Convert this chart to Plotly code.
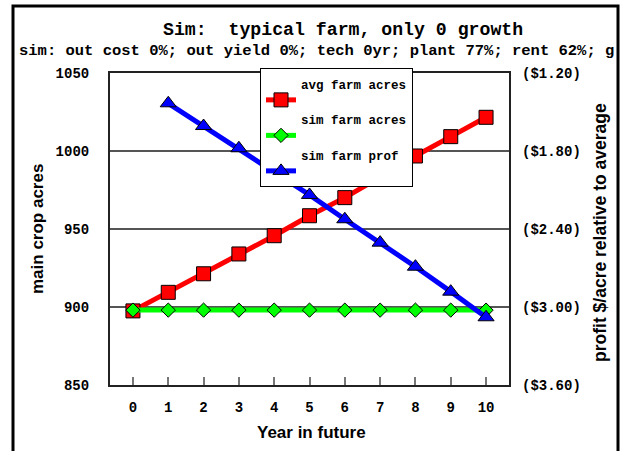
import plotly.graph_objects as go

# ---- data ----
years = [0, 1, 2, 3, 4, 5, 6, 7, 8, 9, 10]
avg_farm_acres = [897.5, 909.4, 921.3, 934.0, 945.7, 958.5, 970.1, 983.3, 996.8, 1009.2, 1021.6]
sim_farm_acres = [898, 898, 898, 898, 898, 898, 898, 898, 898, 898, 898]
prof_years = [1, 2, 3, 4, 5, 6, 7, 8, 9, 10]
sim_farm_prof = [-1.433, -1.608, -1.779, -1.96, -2.138, -2.325, -2.505, -2.690, -2.882, -3.079]

left_ticks = [850, 900, 950, 1000, 1050]
right_ticks = [-3.6, -3.0, -2.4, -1.8, -1.2]
right_tick_labels = ["($3.60)", "($3.00)", "($2.40)", "($1.80)", "($1.20)"]

title_text = "Sim:  typical farm, only 0 growth"
subtitle_text = "sim: out cost 0%; out yield 0%; tech 0yr; plant 77%; rent 62%; g"

MONO = "Liberation Mono"
SANS = "Liberation Sans"

W, H = 621, 451
L, R, T, B = 110, 112, 73, 66
pw, ph = W - L - R, H - T - B

def px_x(p):
    return (p - L) / pw

def px_y(p):
    return (H - B - p) / ph

fig = go.Figure()
fig.add_trace(go.Scatter(
    x=years, y=avg_farm_acres, name="avg farm acres<br> ", mode="lines+markers",
    line=dict(color="#FF0000", width=5),
    marker=dict(symbol="square", size=14, color="#FF0000", line=dict(color="black", width=1)),
))
fig.add_trace(go.Scatter(
    x=years, y=sim_farm_acres, name="sim farm acres<br> ", mode="lines+markers",
    line=dict(color="#00FF00", width=5),
    marker=dict(symbol="diamond", size=11, color="#00FF00", line=dict(color="black", width=1)),
))
fig.add_trace(go.Scatter(
    x=prof_years, y=sim_farm_prof, name="sim farm prof<br> ", mode="lines+markers",
    yaxis="y2",
    line=dict(color="#0000FF", width=5),
    marker=dict(symbol="triangle-up", size=14, color="#0000FF", line=dict(color="black", width=1)),
))

tickfont = dict(family=MONO, size=14, color="black", weight="bold")

fig.update_layout(
    width=W, height=H,
    margin=dict(l=L, r=R, t=T, b=B, autoexpand=False),
    paper_bgcolor="white", plot_bgcolor="white",
    showlegend=True,
    legend=dict(
        x=px_x(260), y=px_y(68), xanchor="left", yanchor="top",
        bgcolor="white", bordercolor="black", borderwidth=1,
        font=dict(family=MONO, size=12.5, color="black", weight="bold"),
        valign="bottom", itemwidth=30,
    ),
    xaxis=dict(
        range=[-0.65, 10.65], tickvals=years, ticks="inside", ticklen=8,
        tickcolor="#777", tickwidth=1.5, showgrid=False, zeroline=False,
        showline=True, linecolor="#222", linewidth=2, mirror=True,
        tickfont=tickfont, ticklabelstandoff=8,
    ),
    yaxis=dict(
        range=[850, 1050], tickvals=left_ticks, ticks="", showgrid=True,
        gridcolor="#555", gridwidth=1.5, zeroline=False,
        showline=True, linecolor="#222", linewidth=2, mirror=True,
        tickfont=tickfont, ticklabelstandoff=16,
    ),
    yaxis2=dict(
        range=[-3.6, -1.2], tickvals=right_ticks, ticktext=right_tick_labels,
        overlaying="y", side="right", showgrid=False, zeroline=False,
        ticks="", tickfont=tickfont, ticklabelstandoff=12,
    ),
    shapes=[
        dict(type="rect", xref="paper", yref="paper",
             x0=px_x(13), x1=px_x(618), y0=px_y(470), y1=px_y(6),
             line=dict(color="black", width=3), fillcolor="rgba(0,0,0,0)", layer="below"),
    ],
    annotations=[
        dict(text=title_text, xref="paper", yref="paper", x=px_x(343), y=px_y(30),
             xanchor="center", yanchor="middle", showarrow=False,
             font=dict(family=MONO, size=18.2, color="black", weight="bold")),
        dict(text=subtitle_text, xref="paper", yref="paper", x=px_x(17), y=px_y(51),
             xanchor="left", yanchor="middle", showarrow=False,
             font=dict(family=MONO, size=15.5, color="black", weight="bold")),
        dict(text="main crop acres", xref="paper", yref="paper", x=px_x(37), y=px_y(229),
             xanchor="center", yanchor="middle", showarrow=False, textangle=-90,
             font=dict(family=SANS, size=17, color="black", weight="bold")),
        dict(text="profit $/acre relative to average", xref="paper", yref="paper",
             x=px_x(600), y=px_y(233), xanchor="center", yanchor="middle",
             showarrow=False, textangle=-90,
             font=dict(family=SANS, size=17.5, color="black", weight="bold")),
        dict(text="Year in future", xref="paper", yref="paper", x=px_x(311), y=px_y(433),
             xanchor="center", yanchor="middle", showarrow=False,
             font=dict(family=SANS, size=17, color="black", weight="bold")),
    ],
)

fig.write_html("out.html", config={"displayModeBar": False},
               post_script="document.body.style.margin='0';document.body.style.overflow='hidden';")
